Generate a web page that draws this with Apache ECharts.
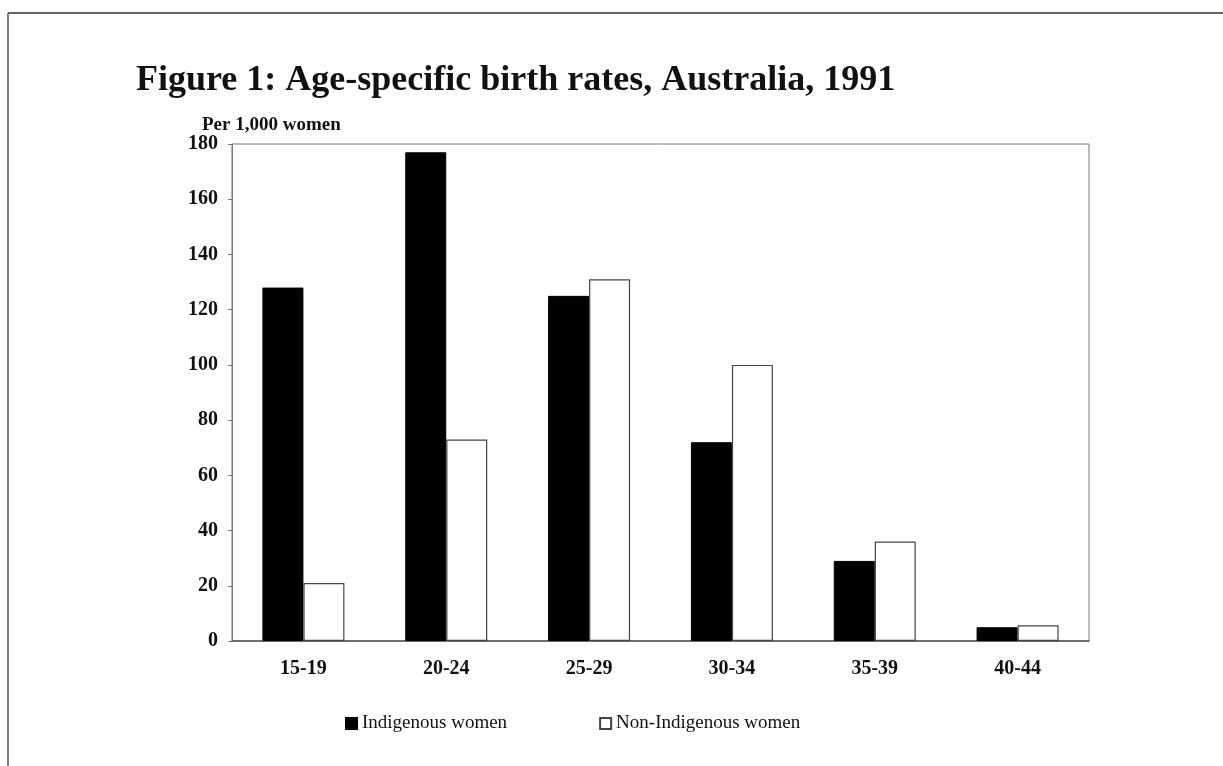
<!DOCTYPE html>
<html>
<head>
<meta charset="utf-8">
<title>Age-specific birth rates</title>
<script src="https://cdn.jsdelivr.net/npm/echarts@6/dist/echarts.min.js"></script>
<style>
  html, body { margin: 0; padding: 0; background: #fff; }
  #chart { width: 1223px; height: 766px; }
</style>
</head>
<body>
<div id="chart"></div>
<script>
  // age groups
  var ageGroups = ['15-19', '20-24', '25-29', '30-34', '35-39', '40-44'];
  // births per 1,000 women
  var indigenous = [128, 177, 125, 72, 29, 5];
  var nonIndigenous = [21, 73, 131, 100, 36, 5.7];
  var yTicks = [0, 20, 40, 60, 80, 100, 120, 140, 160, 180];

  var serif = '"Liberation Serif", "Times New Roman", serif';
  var myChart = echarts.init(document.getElementById('chart'));

  var option = {
    backgroundColor: '#fff',
    animation: false,
    title: {
      text: 'Figure 1: Age-specific birth rates, Australia, 1991',
      left: 131,
      top: 58,
      textStyle: { fontFamily: serif, fontWeight: 'bold', fontSize: 36, color: '#111' }
    },
    legend: {
      bottom: 28,
      left: 340,
      icon: 'rect',
      itemWidth: 11,
      itemHeight: 11,
      itemGap: 92,
      textStyle: { fontFamily: serif, fontSize: 19, color: '#111', padding: [6, 0, 0, 0] },
      data: ['Indigenous women', 'Non-Indigenous women']
    },
    grid: {
      left: 232,
      right: 134,
      top: 144,
      bottom: 125,
      show: true,
      borderColor: '#777',
      borderWidth: 1
    },
    xAxis: {
      type: 'category',
      data: ageGroups,
      axisLine: { lineStyle: { color: '#555', width: 1.5 } },
      axisTick: { show: false },
      axisLabel: { fontFamily: serif, fontWeight: 'bold', fontSize: 20, color: '#111', margin: 18 }
    },
    yAxis: {
      type: 'value',
      min: yTicks[0],
      max: yTicks[yTicks.length - 1],
      interval: 20,
      name: 'Per 1,000 women',
      nameLocation: 'end',
      nameGap: 3,
      nameTextStyle: { fontFamily: serif, fontWeight: 'bold', fontSize: 19, color: '#111', align: 'left', padding: [0, 0, 0, -30] },
      axisLine: { show: true, lineStyle: { color: '#777' } },
      axisTick: { show: true, length: 4, lineStyle: { color: '#777' } },
      splitLine: { show: false },
      axisLabel: { fontFamily: serif, fontWeight: 'bold', fontSize: 20, color: '#111', margin: 14 }
    },
    series: [
      {
        name: 'Indigenous women',
        type: 'bar',
        data: indigenous,
        barWidth: 41,
        barGap: '0%',
        itemStyle: { color: '#000', borderColor: '#000', borderWidth: 1 }
      },
      {
        name: 'Non-Indigenous women',
        type: 'bar',
        data: nonIndigenous,
        barWidth: 41,
        barGap: '0%',
        itemStyle: { color: '#fff', borderColor: '#444', borderWidth: 1.2 }
      }
    ],
    graphic: [
      { type: 'line', shape: { x1: 8, y1: 13, x2: 1223, y2: 13 }, style: { stroke: '#333', lineWidth: 1.5 } },
      { type: 'line', shape: { x1: 8, y1: 13, x2: 8, y2: 766 }, style: { stroke: '#555', lineWidth: 1.5 } }
    ]
  };

  myChart.setOption(option);
</script>
</body>
</html>
